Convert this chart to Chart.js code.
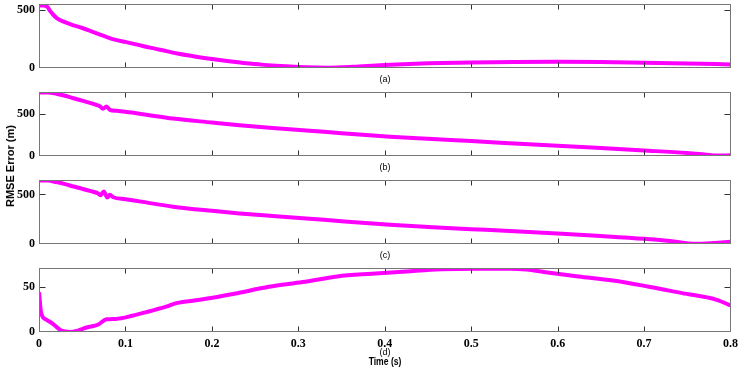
<!DOCTYPE html>
<html>
<head>
<meta charset="utf-8">
<script src="https://cdn.jsdelivr.net/npm/chart.js@4.4.1/dist/chart.umd.min.js"></script>
<style>
  body { margin: 0; background: #fff; width: 742px; height: 370px; overflow: hidden; position: relative; font-family: "Liberation Sans", Arial, sans-serif; }
  .pane { position: absolute; left: 0; }
  .lbl { position: absolute; transform: translate(-50%, -50%); white-space: nowrap; color: #000; font-size: 9px; }
  #xtitle { font-size: 11px; font-weight: bold; transform: translate(-50%, -50%) scaleX(0.78); }
  #ytitle { font-size: 11px; font-weight: bold; transform: translate(-50%, -50%) rotate(-90deg); }
</style>
</head>
<body>
<canvas id="chartA" class="pane" style="top:-4px" width="742" height="80"></canvas>
<canvas id="chartB" class="pane" style="top:84px" width="742" height="80"></canvas>
<canvas id="chartC" class="pane" style="top:172px" width="742" height="80"></canvas>
<canvas id="chartD" class="pane" style="top:260px" width="743" height="110"></canvas>
<div class="lbl" style="left:385px; top:79px">(a)</div>
<div class="lbl" style="left:385px; top:167px">(b)</div>
<div class="lbl" style="left:385px; top:255px">(c)</div>
<div class="lbl" style="left:385px; top:352px">(d)</div>
<div class="lbl" id="xtitle" style="left:385px; top:361px">Time (s)</div>
<div class="lbl" id="ytitle" style="left:10px; top:166px">RMSE Error (m)</div>
<script>
// shared x ticks (s)
const timeTicks = [0, 0.1, 0.2, 0.3, 0.4, 0.5, 0.6, 0.7, 0.8];

// (a)
const timeA = [0, 0.005, 0.01, 0.013, 0.017, 0.021, 0.03, 0.04, 0.05, 0.06, 0.07, 0.08, 0.09, 0.1, 0.12, 0.14, 0.16, 0.18, 0.2, 0.22, 0.24, 0.26, 0.28, 0.3, 0.32, 0.335, 0.35, 0.37, 0.4, 0.45, 0.5, 0.55, 0.6, 0.65, 0.7, 0.75, 0.8];
const rmseA = [540, 540, 525, 490, 455, 428, 395, 368, 345, 318, 290, 262, 240, 225, 190, 158, 125, 100, 78, 58, 40, 27, 17, 9, 4, 3, 6, 14, 26, 40, 48, 52, 53, 51, 46, 39, 31];
const ticksA = [0, 500];

// (b)
const timeB = [0, 0.01, 0.02, 0.03, 0.04, 0.05, 0.06, 0.068, 0.071, 0.074, 0.078, 0.082, 0.09, 0.1, 0.12, 0.155, 0.2, 0.232, 0.27, 0.309, 0.35, 0.406, 0.45, 0.5, 0.55, 0.6, 0.65, 0.7, 0.75, 0.77, 0.785, 0.8];
const rmseB = [758, 758, 745, 720, 690, 662, 632, 605, 590, 565, 592, 552, 540, 528, 500, 448, 400, 367, 335, 306, 272, 230, 205, 178, 150, 122, 95, 66, 35, 18, 5, 8];
const ticksB = [0, 500];

// (c)
const timeC = [0, 0.01, 0.02, 0.03, 0.04, 0.05, 0.06, 0.068, 0.071, 0.075, 0.079, 0.082, 0.086, 0.1, 0.12, 0.155, 0.2, 0.232, 0.27, 0.309, 0.35, 0.406, 0.45, 0.5, 0.55, 0.6, 0.65, 0.7, 0.73, 0.76, 0.78, 0.8];
const rmseC = [642, 642, 625, 605, 580, 557, 533, 512, 492, 530, 470, 497, 472, 452, 425, 377, 335, 309, 283, 258, 230, 194, 172, 150, 128, 105, 80, 52, 30, 3, 10, 22];
const ticksC = [0, 500];

// (d)
const timeD = [0, 0.0025, 0.008, 0.016, 0.026, 0.035, 0.045, 0.055, 0.068, 0.078, 0.089, 0.108, 0.128, 0.147, 0.159, 0.186, 0.226, 0.266, 0.305, 0.345, 0.385, 0.425, 0.465, 0.505, 0.545, 0.564, 0.584, 0.624, 0.664, 0.704, 0.744, 0.784, 0.8];
const rmseD = [44, 21, 14, 9, 1.5, 0, 1.5, 5, 8, 14, 14.5, 18, 23, 28, 32, 35.6, 42.3, 50, 55.2, 61.5, 64.5, 67, 69.3, 70, 70, 69, 66.4, 61.5, 57, 50.4, 43, 35.6, 29.3];
const ticksD = [0, 50];

const tickFont = { family: "'Liberation Serif', 'Times New Roman', serif", size: 12, weight: 'bold' };
const yTickFont = Object.assign({}, tickFont, { lineHeight: 8 / 12 });

// box round the plot area with small inward ticks on all four sides
const framePlugin = {
  id: 'frame',
  afterDraw(chart) {
    const ctx = chart.ctx, a = chart.chartArea, xs = chart.scales.x, ys = chart.scales.y;
    const L = Math.round(a.left) + 0.5, R = Math.round(a.right) - 0.5;
    const T = Math.round(a.top) + 0.5, B = Math.round(a.bottom) - 0.5;
    ctx.save();
    ctx.lineWidth = 1;
    ctx.strokeStyle = '#333';
    ctx.beginPath();
    timeTicks.forEach(v => {
      if (v <= xs.min || v >= xs.max) return;
      const px = Math.round(xs.getPixelForValue(v)) + 0.5;
      ctx.moveTo(px, T); ctx.lineTo(px, T + 5);
      ctx.moveTo(px, B); ctx.lineTo(px, B - 5);
    });
    ys.ticks.forEach(t => {
      if (t.value <= ys.min || t.value >= ys.max) return;
      const py = Math.round(ys.getPixelForValue(t.value)) + 0.5;
      ctx.moveTo(L, py); ctx.lineTo(L + 6, py);
      ctx.moveTo(R, py); ctx.lineTo(R - 6, py);
    });
    ctx.stroke();
    ctx.strokeStyle = '#777';
    ctx.strokeRect(L, T, R - L, B - T);
    ctx.restore();
  }
};

function makePanel(id, times, values, yMax, yTicks, showX) {
  const pts = times.map((t, i) => ({ x: t, y: values[i] }));
  return new Chart(document.getElementById(id), {
    type: 'line',
    data: {
      datasets: [{
        data: pts,
        borderColor: '#ff00ff',
        borderWidth: 4,
        pointRadius: 0,
        cubicInterpolationMode: 'monotone',
        fill: false
      }]
    },
    options: {
      responsive: false,
      animation: false,
      events: [],
      layout: { padding: { left: 0, right: 11.5, top: 0, bottom: 0 } },
      plugins: { legend: { display: false }, tooltip: { enabled: false } },
      scales: {
        x: {
          type: 'linear',
          min: 0,
          max: 0.8,
          display: showX,
          grid: { display: false, drawTicks: false },
          border: { display: false },
          afterBuildTicks: s => { s.ticks = timeTicks.map(v => ({ value: v })); },
          afterFit: s => { s.height = showX ? 38 : 0; },
          ticks: {
            font: tickFont,
            color: '#000',
            padding: 5,
            maxRotation: 0,
            callback: v => String(v)
          }
        },
        y: {
          min: 0,
          max: yMax,
          grid: { display: false, drawTicks: false },
          border: { display: false },
          afterBuildTicks: s => { s.ticks = yTicks.map(v => ({ value: v })); },
          afterFit: s => { s.width = 39; },
          ticks: { font: yTickFont, color: '#000', padding: 4 }
        }
      }
    },
    plugins: [framePlugin]
  });
}

makePanel('chartA', timeA, rmseA, 552, ticksA, false);
makePanel('chartB', timeB, rmseB, 765, ticksB, false);
makePanel('chartC', timeC, rmseC, 646, ticksC, false);
makePanel('chartD', timeD, rmseD, 70.8, ticksD, true);
</script>
</body>
</html>
